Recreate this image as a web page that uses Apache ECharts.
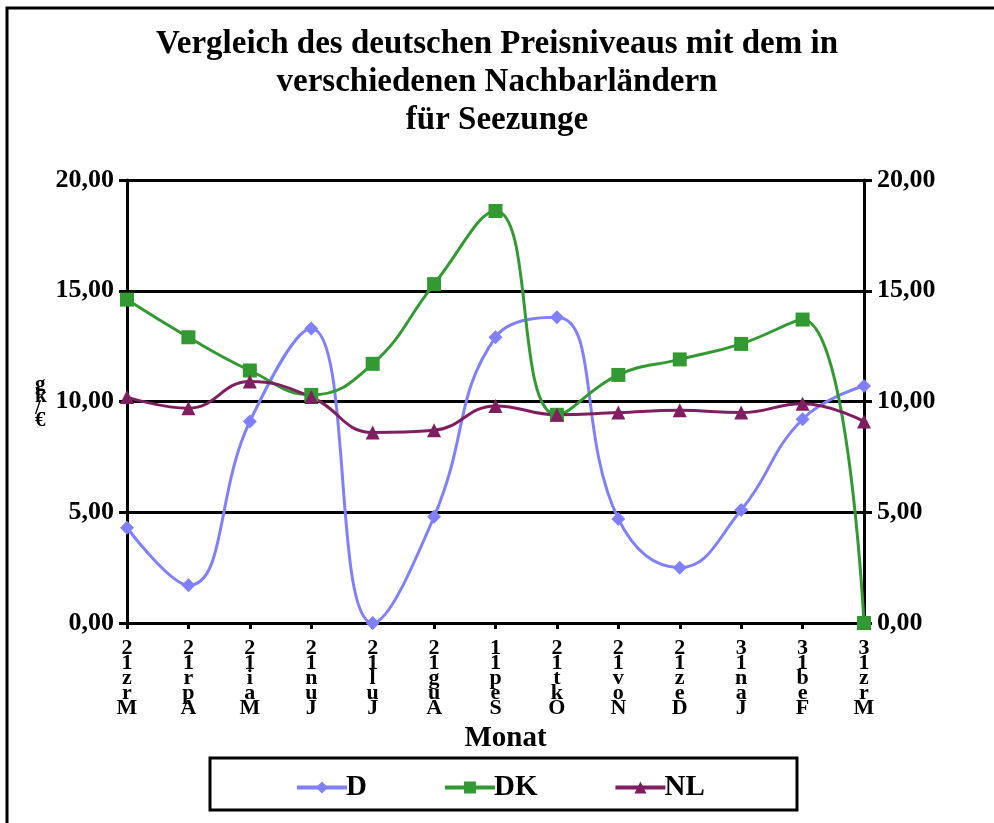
<!DOCTYPE html>
<html>
<head>
<meta charset="utf-8">
<script src="https://cdn.jsdelivr.net/npm/echarts@6/dist/echarts.min.js"></script>
<style>
  html, body { margin: 0; padding: 0; background: #fff; }
  #chart { width: 994px; height: 823px; }
</style>
</head>
<body>
<div id="chart"></div>
<script>
// Monate
var months = ['Mrz12', 'Apr12', 'Mai12', 'Jun12', 'Jul12', 'Aug12', 'Sep11', 'Okt12', 'Nov12', 'Dez12', 'Jan13', 'Feb13', 'Mrz13'];
// Preise in €/kg
var dValues  = [4.3, 1.7, 9.1, 13.3, 0.0, 4.8, 12.9, 13.8, 4.7, 2.5, 5.1, 9.2, 10.7];
var dkValues = [14.6, 12.9, 11.4, 10.3, 11.7, 15.3, 18.6, 9.4, 11.2, 11.9, 12.6, 13.7, 0.0];
var nlValues = [10.2, 9.7, 10.9, 10.2, 8.6, 8.7, 9.8, 9.4, 9.5, 9.6, 9.5, 9.9, 9.1];
var yTicks = [0, 5, 10, 15, 20];

var font = 'Liberation Serif';
var myChart = echarts.init(document.getElementById('chart'));

function fmt(v) {
  return v.toFixed(2).replace('.', ',');
}

function yAxisCfg(pos) {
  return {
    type: 'value',
    position: pos,
    min: yTicks[0],
    max: yTicks[yTicks.length - 1],
    interval: 5,
    axisLine: { show: true, lineStyle: { color: '#000', width: 3 } },
    axisTick: { show: true, length: 8, lineStyle: { color: '#000', width: 3 } },
    splitLine: { show: pos === 'left', lineStyle: { color: '#000', width: 3 } },
    axisLabel: {
      formatter: fmt,
      fontFamily: font, fontWeight: 'bold', fontSize: 26, color: '#000', margin: 13
    }
  };
}

function lineSeries(name, data, color, symbol, size) {
  return {
    name: name,
    type: 'line',
    data: data,
    smooth: 0.45,
    symbol: symbol,
    symbolSize: size,
    lineStyle: { color: color, width: 3 },
    itemStyle: { color: color },
    z: 3
  };
}

var option = {
  backgroundColor: '#fff',
  animation: false,
  title: {
    text: 'Vergleich des deutschen Preisniveaus mit dem in\nverschiedenen Nachbarländern\nfür Seezunge',
    left: 'center',
    top: 20,
    textStyle: { fontFamily: font, fontWeight: 'bold', fontSize: 33, color: '#000', lineHeight: 38 }
  },
  grid: { left: 127, right: 130, top: 180, bottom: 200 },
  legend: {
    data: ['D', 'DK', 'NL'],
    left: 290,
    top: 768,
    itemWidth: 50,
    itemHeight: 15,
    itemGap: 76,
    lineStyle: { width: 4 },
    textStyle: { fontFamily: font, fontWeight: 'bold', fontSize: 29, color: '#000', padding: [0, 0, 0, -6] }
  },
  xAxis: {
    type: 'category',
    data: months,
    boundaryGap: false,
    name: 'Monat',
    nameLocation: 'middle',
    nameGap: 96,
    nameTextStyle: { fontFamily: font, fontWeight: 'bold', fontSize: 29, color: '#000', padding: [0, 0, 0, 20] },
    axisLine: { lineStyle: { color: '#000', width: 3 } },
    axisTick: { show: true, length: 6, alignWithLabel: true, lineStyle: { color: '#000', width: 3 } },
    axisLabel: {
      interval: 0,
      margin: 18,
      fontFamily: font, fontWeight: 'bold', fontSize: 22, color: '#000', lineHeight: 15,
      formatter: function (v) { return v.split('').reverse().join('\n'); }
    }
  },
  yAxis: [yAxisCfg('left'), yAxisCfg('right')],
  series: [
    lineSeries('D', dValues, '#8080FF', 'diamond', 14),
    lineSeries('DK', dkValues, '#339933', 'rect', 14),
    lineSeries('NL', nlValues, '#7F1F5F', 'triangle', 14)
  ],
  graphic: [
    {
      type: 'rect',
      shape: { x: 7, y: 8, width: 1010, height: 900 },
      style: { fill: null, stroke: '#000', lineWidth: 3 },
      silent: true
    },
    {
      type: 'rect',
      shape: { x: 210, y: 758, width: 587, height: 52 },
      style: { fill: null, stroke: '#000', lineWidth: 3 },
      silent: true
    },
    {
      type: 'text',
      left: 35,
      top: 374,
      style: {
        text: 'g\nk\n/\n€',
        font: 'bold 21px "Liberation Serif"',
        lineHeight: 12,
        fill: '#000'
      }
    }
  ]
};

myChart.setOption(option);
</script>
</body>
</html>
